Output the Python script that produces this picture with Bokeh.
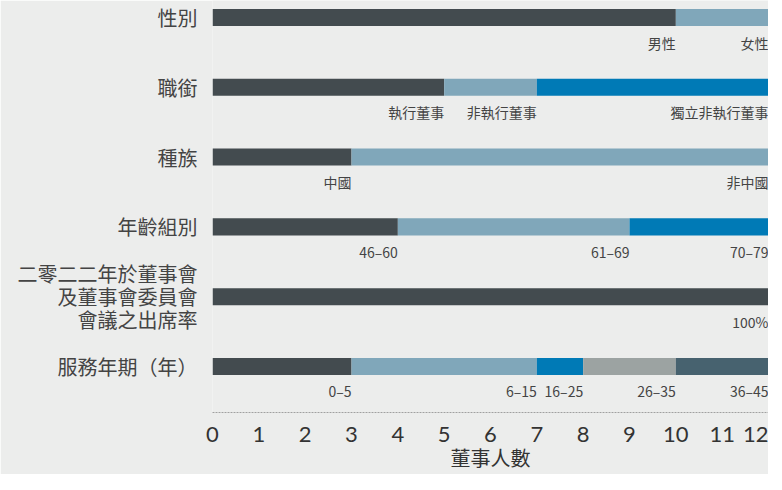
from bokeh.plotting import figure
from bokeh.models import Range1d, FixedTicker, ColumnDataSource
from bokeh.core.properties import value
from bokeh.embed import file_html
from bokeh.resources import INLINE

# ---- data ----
categories = ["性別", "職銜", "種族", "年齡組別",
              "二零二二年於董事會\n及董事會委員會\n會議之出席率", "服務年期（年）"]

gender_labels = ["男性", "女性"]
gender_values = [10, 2]
position_labels = ["執行董事", "非執行董事", "獨立非執行董事"]
position_values = [5, 2, 5]
ethnicity_labels = ["中國", "非中國"]
ethnicity_values = [3, 9]
age_labels = ["46–60", "61–69", "70–79"]
age_values = [4, 5, 3]
attendance_labels = ["100%"]
attendance_values = [12]
tenure_labels = ["0–5", "6–15", "16–25", "26–35", "36–45"]
tenure_values = [3, 4, 1, 2, 2]

x_ticks = list(range(0, 13))
x_title = "董事人數"

segment_colors = ["#434b4f", "#80a7ba", "#007ab6", "#9ca3a2", "#47626f"]
BG = "#ecedec"
TEXT = "#444444"
FONT = "Noto Sans CJK TC"

groups = [
    (gender_labels, gender_values),
    (position_labels, position_values),
    (ethnicity_labels, ethnicity_values),
    (age_labels, age_values),
    (attendance_labels, attendance_values),
    (tenure_labels, tenure_values),
]

left, right, ys, colors, labels = [], [], [], [], []
for i, (labs, vals) in enumerate(groups):
    acc = 0
    for j, (lab, v) in enumerate(zip(labs, vals)):
        left.append(acc)
        acc += v
        right.append(acc)
        ys.append(-i)
        colors.append(segment_colors[j])
        labels.append(lab)

src = ColumnDataSource(dict(left=left, right=right, y=ys, color=colors, label=labels))

p = figure(width=768, height=474, output_backend="svg", toolbar_location=None,
           x_range=Range1d(0, 12), y_range=Range1d(-5.66, 0.244),
           min_border_left=212, min_border_right=0, min_border_top=0,
           background_fill_color=BG, border_fill_color=BG)
p.outline_line_color = None
p.grid.visible = False

p.hbar(y="y", left="left", right="right", height=0.244, fill_color="color",
       line_color=None, source=src)
p.text(x="right", y="y", text="label", source=src, text_align="right",
       text_baseline="middle", y_offset=25, text_font=value(FONT),
       text_font_size="14px", text_color=TEXT)

# x axis
xa = p.xaxis[0]
xa.ticker = FixedTicker(ticks=x_ticks)
xa.axis_line_dash = "2 1"
xa.axis_line_color = "#a0a0a0"
xa.axis_line_width = 1
xa.major_tick_line_color = None
xa.minor_tick_line_color = None
xa.major_label_standoff = 8
xa.major_label_text_font = "Lato"
xa.major_label_text_font_size = "22px"
xa.major_label_text_color = "#333333"
xa.axis_label = x_title
xa.axis_label_standoff = -2
xa.axis_label_text_font = FONT
xa.axis_label_text_font_size = "20px"
xa.axis_label_text_font_style = "normal"
xa.axis_label_text_color = "#333333"

# y axis
ya = p.yaxis[0]
ya.ticker = FixedTicker(ticks=[-i for i in range(len(categories))])
ya.major_label_overrides = {-i: c for i, c in enumerate(categories)}
ya.axis_line_color = None
ya.major_tick_line_color = None
ya.minor_tick_line_color = None
ya.major_label_standoff = 9
ya.major_label_text_font = FONT
ya.major_label_text_font_size = "20px"
ya.major_label_text_line_height = 0.8
ya.major_label_text_color = TEXT

open("out.html", "w").write(file_html(p, INLINE))
